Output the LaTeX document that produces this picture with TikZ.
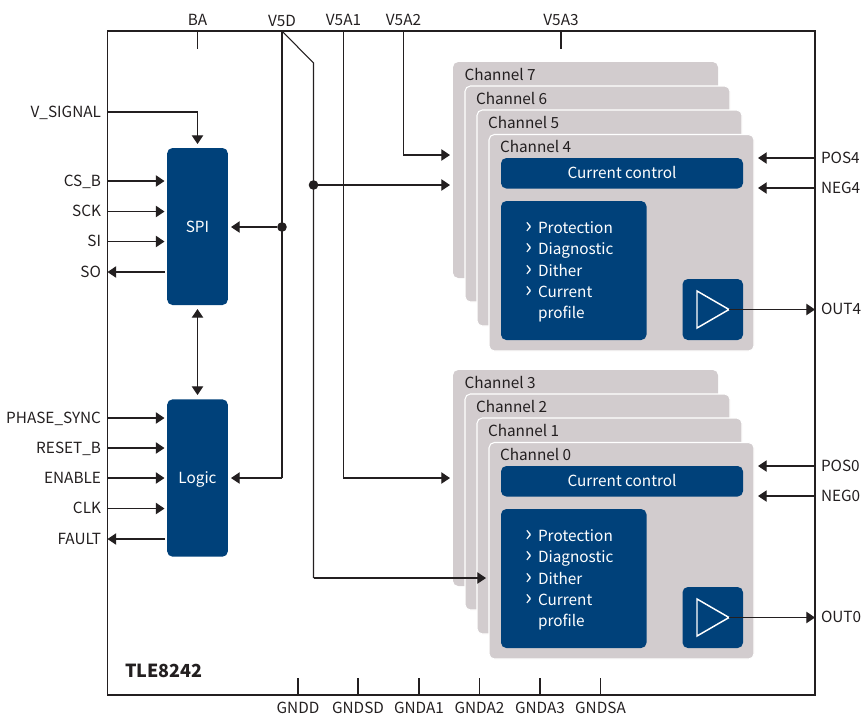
\documentclass[tikz,border=0pt]{standalone}
\usepackage{fontspec}
\setmainfont{Noto Sans CJK JP}
\usetikzlibrary{arrows.meta}
\definecolor{navy}{HTML}{00417A}
\definecolor{card}{HTML}{D2CCCE}
\definecolor{ink}{HTML}{231F20}
\tikzset{
  every node/.style={inner sep=0pt,outer sep=0pt,text=ink,font=\fontsize{11.5}{13}\selectfont},
  wire/.style={draw=ink,line width=0.8pt},
  arr/.style={wire,-{Triangle[length=6.5pt,width=8.5pt]}},
  darr/.style={wire,{Triangle[length=6.5pt,width=8.5pt]}-{Triangle[length=6.5pt,width=8.5pt]}},
  dot/.style={circle,fill=ink,minimum size=7.2pt},
  chip/.style={fill=navy,rounded corners=4pt},
  cardbox/.style={fill=card,draw=white,line width=0.8pt,rounded corners=4pt},
  lab/.style={anchor=base east},
  rlab/.style={anchor=base west},
  tlab/.style={anchor=base},
  onblue/.style={text=white},
  chev/.style={text=white,anchor=center,font=\fontsize{17}{17}\selectfont},
}
\newcommand{\chgroup}[6]{%
  % #1 y offset, #2-#5 channel numbers (back to front), #6 output suffix
  \begin{scope}[yshift=#1*-0.75pt]
    \fill[card,rounded corners=4pt] (453,62) rectangle (718,278);
    \draw[cardbox] (465,86) rectangle (730,302);
    \draw[cardbox] (477,110) rectangle (742,326);
    \draw[cardbox] (489,134.5) rectangle (754,351);
    \node[rlab] (ch#2) at (464.5,80) {Channel #2};
    \node[rlab] (ch#3) at (476,104) {Channel #3};
    \node[rlab] (ch#4) at (488,128) {Channel #4};
    \node[rlab] (ch#5) at (500,152) {Channel #5};
    \fill[chip] (501,158) rectangle (743,188.5);
    \node[tlab,onblue] (cc#6) at (622,178) {Current control};
    \fill[chip] (501,201) rectangle (646.5,340);
    \node[chev] (pa#6) at (528.5,228) {›};
    \node[rlab,onblue] (pb#6) at (538,233) {Protection};
    \node[chev] (da#6) at (528.5,249) {›};
    \node[rlab,onblue] (db#6) at (538,254) {Diagnostic};
    \node[chev] (ta#6) at (528.5,271) {›};
    \node[rlab,onblue] (tb#6) at (538,276) {Dither};
    \node[chev] (ca#6) at (528.5,292) {›};
    \node[rlab,onblue] (cb#6) at (538,297) {Current};
    \node[rlab,onblue] (cp#6) at (538,318) {profile};
    \fill[chip] (682.5,279) rectangle (743,340);
    \draw[white,line width=1.1pt,line join=miter] (697,291) -- (729,309.5) -- (697,328) -- cycle;
    \coordinate (amp#6) at (729,309.5);
    \coordinate (outpin#6) at (815,309.5);
    \coordinate (pospin#6) at (815,158);
    \coordinate (posin#6) at (758,158);
    \coordinate (negpin#6) at (815,188);
    \coordinate (negin#6) at (758,188);
    \draw[arr] (amp#6) -- (outpin#6);
    \draw[arr] (pospin#6) -- (posin#6);
    \draw[arr] (negpin#6) -- (negin#6);
    \node[rlab] (pos#6) at (821,163) {POS#6};
    \node[rlab] (neg#6) at (821,193) {NEG#6};
    \node[rlab] (out#6) at (821,314) {OUT#6};
  \end{scope}}
\begin{document}
\begin{tikzpicture}[x=0.75pt,y=-0.75pt]
\useasboundingbox (0,0) rectangle (862,715);
% frame
\draw[wire] (107.5,31) rectangle (815,695);
% channels
\chgroup{0}{7}{6}{5}{4}{4}
\chgroup{308}{3}{2}{1}{0}{0}
% blocks
\node[chip,minimum width=45.5pt,minimum height=117.75pt] (spi) at (197.5,226.5) {};
\node[onblue,anchor=base] (spit) at (197.5,232) {SPI};
\node[chip,minimum width=45.5pt,minimum height=118pt] (logic) at (197.5,478) {};
\node[onblue,anchor=base] (logict) at (197.5,483) {Logic};
\node[anchor=base west,font=\fontsize{13.5}{15}\selectfont\bfseries] (title) at (125,677.5) {TLE8242};
% top labels
\node[tlab] (ba) at (197.5,25) {BA};
\node[tlab] (v5d) at (282,26) {V5D};
\node[tlab] (v5a1) at (343.5,25) {V5A1};
\node[tlab] (v5a2) at (403.5,25) {V5A2};
\node[tlab] (v5a3) at (561,25) {V5A3};
% pins
\coordinate (baT) at (197.5,31); \coordinate (baB) at (197.5,49);
\coordinate (a3T) at (561,31); \coordinate (a3B) at (561,49);
\draw[wire] (baT) -- (baB);
\draw[wire] (a3T) -- (a3B);
% left labels and arrows
\node[lab] (vsig) at (101,117) {V\_SIGNAL};
\coordinate (vsigP) at (107.5,112);
\coordinate (vsigT) at (197.5,144);
\draw[arr] (vsigP) -| (vsigT);
\foreach \n/\t/\y in {csb/CS\_B/181,sck/SCK/211.5,si/SI/241.5,phase/PHASE\_SYNC/418,reset/RESET\_B/448,enable/ENABLE/478,clk/CLK/508.5}{
  \node[lab] (\n) at (101,\y+5) {\t};
  \coordinate (\n P) at (107.5,\y);
  \coordinate (\n T) at (164.5,\y);
  \draw[arr] (\n P) -- (\n T);
}
\foreach \n/\t/\y in {so/SO/272,fault/FAULT/539}{
  \node[lab] (\n) at (101,\y+5) {\t};
  \coordinate (\n P) at (107.5,\y);
  \coordinate (\n S) at (165,\y);
  \draw[arr] (\n S) -- (\n P);
}
% SPI-Logic
\coordinate (busA) at (197.5,309);
\coordinate (busB) at (197.5,395);
\draw[darr] (busA) -- (busB);
% V5D
\coordinate (v5dT) at (282,31);
\coordinate (v5dB) at (282,478);
\coordinate (logicR) at (231,478);
\coordinate (spiR) at (231,227);
\node[dot] (d1) at (282,227) {};
\draw[wire] (v5dT) -- (v5dB);
\draw[arr] (v5dB) -- (logicR);
\draw[arr] (d1) -- (spiR);
% V5D branch
\coordinate (kink) at (313.5,63);
\coordinate (brB) at (313.5,578);
\coordinate (ch0L) at (486,578);
\coordinate (ch4L) at (450,185);
\node[dot] (d2) at (313.5,185) {};
\draw[wire] (v5dT) -- (kink) -- (brB);
\draw[arr] (brB) -- (ch0L);
\draw[arr] (d2) -- (ch4L);
% V5A1
\coordinate (a1T) at (343.5,31);
\coordinate (a1B) at (450,478);
\draw[arr] (a1T) |- (a1B);
% V5A2
\coordinate (a2T) at (403.5,31);
\coordinate (a2B) at (450,155);
\draw[arr] (a2T) |- (a2B);
% bottom ticks
\foreach \n/\t/\x in {gndd/GNDD/298,gndsd/GNDSD/358,gnda1/GNDA1/419,gnda2/GNDA2/479.5,gnda3/GNDA3/540,gndsa/GNDSA/600.5}{
  \node[tlab] (\n) at (\x,713) {\t};
  \coordinate (\n T) at (\x,678);
  \coordinate (\n B) at (\x,695);
  \draw[wire] (\n T) -- (\n B);
}
\end{tikzpicture}
\end{document}
